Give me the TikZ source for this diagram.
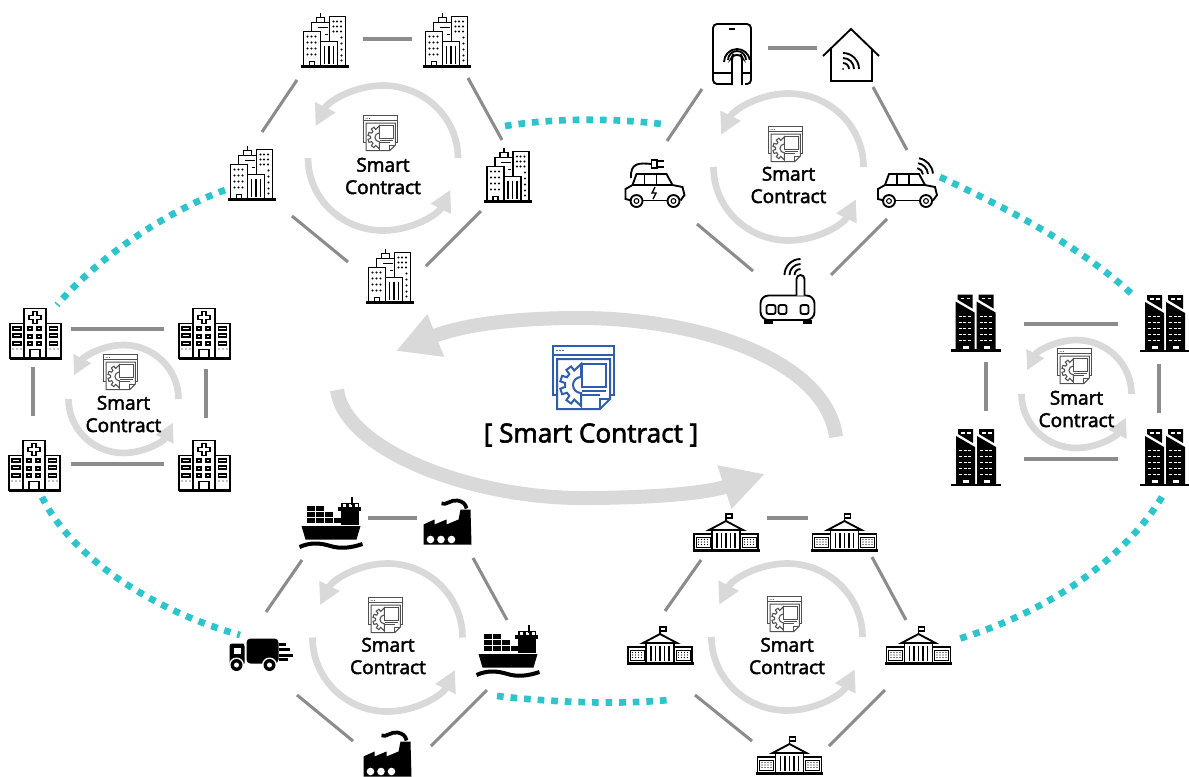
\documentclass[tikz,border=0pt]{standalone}
\usepackage{fontspec}
\usetikzlibrary{arrows.meta,calc}
\newfontfamily\lblfont[FakeBold=2.5]{Open Sans}
\definecolor{ringgray}{HTML}{D9D9D9}
\definecolor{linkgray}{HTML}{8C8C8C}
\definecolor{chaincyan}{HTML}{2CC5CC}
\definecolor{ctblue}{HTML}{2F5DAF}
\definecolor{ctgray}{HTML}{505050}

\tikzset{
    ico/.style={line width=1.4pt},
    site/.style={inner sep=0pt, minimum size=8pt},
    link/.style={draw=linkgray, line width=2.3pt},
    chain/.style={draw=chaincyan, line width=5pt, dash pattern=on 5pt off 5.2pt},
    sclabel/.style={align=center, font=\lblfont\fontsize{14.3}{16.8}\selectfont},
    ctsmall/.style={scale=0.55, color=ctgray, line width=0.8pt},
    ctbig/.style={color=ctblue, line width=1.5pt},
    % rings of two arcs
    pics/ringarrows/.style n args={3}{code={
        \draw[ringgray, line width=5pt, -{Triangle[length=#3pt,width=#3pt]}] (#1,0) arc[start angle=0, end angle=-154, x radius=#1, y radius=#2];
        \draw[ringgray, line width=5pt, -{Triangle[length=#3pt,width=#3pt]}] (-#1,0) arc[start angle=180, end angle=26, x radius=#1, y radius=#2];
    }},
    pics/contract/.style={code={
        \draw (-31,-31) rectangle (30,18);
        \draw (-31,-22) -- (30,-22);
        \foreach \x in {-27,-24,-21} \fill (\x,-26.5) circle[radius=0.9];
        \draw[fill=white] (-27,-18) -- (26,-18) -- (26,22) -- (16,32) -- (-27,32) -- cycle;
        \draw (16,32) -- (16,22) -- (26,22);
        \draw[fill=white] (-2,-13) rectangle (22,10);
        \draw (-2,14) -- (22,14);
        \draw (-2,18) -- (16,18);
        \begin{scope}[shift={(-3,8)}]
            \draw[fill=white] (90:21) \foreach \a in {126,162,198,234} { -- (\a-11:16) -- (\a-8:21) -- (\a+8:21) -- (\a+11:16) } -- (270:21) -- (270:8) arc[start angle=270, end angle=90, radius=8] -- cycle;
        \end{scope}
    }},
    pics/office/.style={code={
        \draw[ico, line width=1.8pt] (-24,27) -- (24,27);
        \draw[ico] (-21,27) |- (-4,-8) -- (-4,2);
        \draw[ico] (-13,-8) |- (5,-17);
        \draw[ico] (-8,-17) |- (0,-22) -- (0,-17);
        \draw[ico] (-4,-22) -- (-4,-27);
        \draw[ico] (5,2) -- (5,-23) -| (21,27);
        \draw[ico] (-4,27) |- (13,2) -- (13,27);
        \draw[ico] (-7,-12) -- (3,-12);
        \draw[ico] (0,-5) -- (3,-5);
        \foreach \x in {0,4.5,9} \draw[ico] (\x,6) -- (\x,24);
        \foreach \y in {-3,3,9,15} \foreach \x in {-17,-13,-9} \fill (\x,\y) circle[radius=1.2];
        \foreach \y in {-18,-13,-8} \foreach \x in {9,12.5,16.5} \fill (\x,\y) circle[radius=1.2];
        \foreach \y in {-2,4,10,16,21} \fill (17,\y) circle[radius=1.2];
        \draw[ico] (-15,27) |- (-10,22) -- (-10,27);
    }},
    pics/hospital/.style={code={
        \draw[ico] (-11,25) |- (11,-25) -- (11,25);
        \draw[ico] (-25,25) |- (-11,-10);
        \draw[ico] (26,25) |- (11,-10);
        \draw[ico, line width=1.8pt] (-25.5,25) -- (26.5,25);
        \draw[ico] (-2,-22) -- (2,-22) -- (2,-18) -- (6,-18) -- (6,-14) -- (2,-14) -- (2,-10) -- (-2,-10) -- (-2,-14) -- (-6,-14) -- (-6,-18) -- (-2,-18) -- cycle;
        \foreach \y in {-5,3,10} \foreach \x in {-5,4} \draw[line width=0.8pt] (\x-2,\y-1.5) rectangle (\x+2,\y+1.5);
        \foreach \y in {-5,2,10} \foreach \x in {-18,18.5} \draw[line width=0.8pt] (\x-4,\y-1.5) rectangle (\x+4,\y+1.5);
        \draw[ico] (-5,25) |- (5,16) -- (5,25);
        \foreach \x in {-22,-18,-14,15,19,23} \fill (\x,15.5) circle[radius=0.7];
    }},
    pics/towers/.style={code={
        \fill[black] (-25,26.5) rectangle (25,29);
        \foreach \s in {0,21} {
            \begin{scope}[shift={(\s,0)}]
                \fill[black] (-18,-28) -- (-3,-28) -- (-3,-14) -- (-18,-23) -- cycle;
                \fill[black] (-20,-21) -- (-1,-10) -- (-1,27) -- (-20,27) -- cycle;
                \foreach \y in {-7,-1,5,11,17} \foreach \x in {-17,-12.5,-8} \fill[white] (\x,\y) rectangle +(3,1.4);
                \fill[white] (-15,-25) rectangle +(3.5,1.6);
                \fill[white] (-9,-25) rectangle +(3.5,1.6);
                \fill[white] (-13,23) rectangle +(6,3);
            \end{scope}
        }
    }},
    pics/gov/.style={code={
        \draw[ico, line width=1.8pt] (-33.5,18.5) -- (33.5,18.5);
        \draw[ico] (-32,18) |- (-14,2);
        \draw[ico] (32,18) |- (14,2);
        \draw[ico] (-14,18) -- (-14,-2);
        \draw[ico] (14,18) -- (14,-2);
        \draw[ico] (-17,-2) -- (0,-11) -- (17,-2) -- cycle;
        \foreach \x in {-9,-4.5,0,4.5,9} \draw[ico] (\x,1) -- (\x,16);
        \draw[ico] (0,-11) -- (0,-18) -- (6,-18) -- (6,-14) -- (0,-14);
        \foreach \s in {-23,23} {
            \draw[line width=0.7pt] (\s-7,5) rectangle (\s+7,15);
            \foreach \y in {7.5,10,12.5} \foreach \x in {-4.5,-1.5,1.5,4.5} \fill (\s+\x,\y) circle[radius=0.7];
        }
    }},
    pics/ship/.style={code={
        \fill[black] (-29,3) -- (30,3) -- (26,16.5) -- (-25,16.5) -- cycle;
        \foreach \x/\y in {-24/-17,-15/-17,-24/-11,-15/-11,-6/-11,-24/-5,-15/-5,-6/-5,3/-5} \fill[black] (\x,\y) rectangle +(8,5);
        \fill[black] (10,-20) rectangle (28,2);
        \fill[black] (7,-16) rectangle (30,-12);
        \foreach \x in {12,18,24} \fill[white] (\x,-19) rectangle +(3,3);
        \draw[line width=1.5pt] (21,-26) -- (21,-18);
        \draw[line width=3pt] (-31,24) .. controls (-20,19) and (-10,20) .. (0,23) .. controls (10,26) and (20,25) .. (32,21);
    }},
    pics/factory/.style={code={
        \fill[black] (-24,21) -- (-24,1) -- (-13,-4) -- (-13,1) -- (-1,-4) -- (-1,1) -- (11,-4) -- (13,-14) -- (23,-14) -- (24,21) -- cycle;
        \foreach \x in {-17,-6.5,4} \fill[white] (\x,16) circle[radius=3.8];
        \draw[line width=2.8pt] (-6,-20) .. controls (-1,-18) and (3,-24) .. (10,-23) .. controls (15,-22) and (18,-20) .. (19,-15);
    }},
    pics/truck/.style={code={
        \fill[black, rounded corners=3pt] (-14,-16) rectangle (18,9);
        \fill[black, rounded corners=2pt] (-31,-11) -- (-18,-11) -- (-16,-11) -- (-16,11) -- (-31,11) -- cycle;
        \fill[white] (-27,-7) rectangle (-20,-1);
        \foreach \x in {-24,9} {
            \fill[white] (\x,10.5) circle[radius=7.5];
            \fill[black] (\x,10.5) circle[radius=6];
            \fill[white] (\x,10.5) circle[radius=2.5];
        }
        \draw[line width=1.6pt] (18,-10) -- (25,-10);
        \draw[line width=1.6pt] (18,-5) -- (29,-5);
        \draw[line width=1.6pt] (18,1) -- (32,1);
        \draw[line width=1.6pt] (18,5) -- (27,5);
    }},
    pics/car/.style={code={
        \draw[ico] (-23,17.5) -- (-29,16) -- (-29,6) -- (-22,2) -- (-18,-9) -- (12,-9) -- (18,2) -- (28,4) -- (30,12) -- (26,17.5);
        \draw[ico] (-22,2) -- (18,2);
        \draw[ico] (-10,-9) -- (-10,2);
        \draw[ico] (2,-9) -- (2,2);
        \draw[ico] (-12,17.5) -- (12,17.5);
        \foreach \x in {-18,19} {
            \draw[ico] (\x,18) circle[radius=6];
            \draw[line width=0.8pt] (\x,18) circle[radius=2.4];
        }
    }},
    pics/wifiarcs/.style={code={
        \foreach \r in {7,12,17} \draw[ico] (-80:\r) arc[start angle=-80, end angle=-5, radius=\r];
    }},
    pics/phone/.style={code={
        \draw[ico, rounded corners=3pt] (8,30) -- (-19,30) -- (-19,-30) -- (19,-30) -- (19,30) -- (13,30);
        \draw[ico] (-19,19) -- (-1,19);
        \draw[ico] (11,19) -- (19,19);
        \draw[ico] (-3,-25) -- (3,-25);
        \draw[ico] (-4,6) arc[start angle=180, end angle=360, radius=9];
        \draw[ico] (-8,8) arc[start angle=180, end angle=350, radius=13];
        \draw[ico, fill=white, rounded corners=2.5pt] (0,31) -- (0,3) -- (1,1) -- (9,1) -- (10,3) -- (10,31);
    }},
    pics/house/.style={code={
        \draw[ico] (-28,1) -- (0,-26) -- (28,1);
        \draw[ico] (-20,-6) -- (-20,26) -- (21,26) -- (21,-6);
        \begin{scope}[shift={(-8,14)}]
            \fill (0,0) circle[radius=1];
            \foreach \r in {6,11,16} \draw[ico] (0:\r) arc[start angle=0, end angle=-90, radius=\r];
        \end{scope}
    }},
    pics/router/.style={code={
        \draw[ico, rounded corners=6pt] (-27,2.5) rectangle (27,27);
        \draw[ico, fill=white] (9,2.5) -- (9,-14) arc[start angle=180, end angle=360, radius=4] -- (17,2.5);
        \foreach \x/\w in {-21/9,-9/8,13/8} \draw[ico, rounded corners=1.5pt] (\x,12) rectangle +(\w,9);
        \fill[black] (-24,27) rectangle (-15,31);
        \fill[black] (15,27) rectangle (24,31);
        \begin{scope}[shift={(13,-18)}]
            \foreach \r in {6,11,16} \draw[ico] (180:\r) arc[start angle=180, end angle=270, radius=\r];
        \end{scope}
    }}
}

\begin{document}
\begin{tikzpicture}[x=0.75pt, y=-0.75pt]
\useasboundingbox (0,0) rectangle (1189,776);

% Central loop
\coordinate (bigA) at (836,437);
\coordinate (bigB) at (396,351);
\coordinate (bigC) at (337,390);
\coordinate (bigD) at (765,474);
\draw[ringgray, line width=10.5pt, -{Triangle[length=32pt,width=32pt]}] (bigA) .. controls (826,360) and (700,318) .. (579,318) .. controls (530,318) and (470,322) .. (bigB);
\draw[ringgray, line width=10.5pt, -{Triangle[length=32pt,width=32pt]}] (bigC) .. controls (345,450) and (470,498) .. (582,498) .. controls (635,498) and (700,495) .. (bigD);
\pic[ctbig] at (584,377) {contract};
\node[font=\lblfont\fontsize{19.6}{22}\selectfont] (title) at (591,435) {[ Smart Contract ]};

% Rings
\pic at (383,158) {ringarrows={75}{72.5}{16}};
\pic at (788.5,167) {ringarrows={75}{73.5}{16}};
\pic at (387.5,637.5) {ringarrows={75}{74}{16}};
\pic at (787,637) {ringarrows={75.5}{73.5}{16}};
\pic at (123.5,399) {ringarrows={55}{54}{14}};
\pic at (1076.5,394) {ringarrows={55}{54}{14}};

% Small contract icons
\pic[ctsmall] at (381,133) {contract};
\pic[ctsmall] at (786,144) {contract};
\pic[ctsmall] at (386,615) {contract};
\pic[ctsmall] at (785,614) {contract};
\pic[ctsmall] at (121,372) {contract};
\pic[ctsmall] at (1075,366) {contract};

\node[sclabel] (sc1) at (383,176) {Smart\\Contract};
\node[sclabel] (sc2) at (788.5,185) {Smart\\Contract};
\node[sclabel] (sc3) at (388,656) {Smart\\Contract};
\node[sclabel] (sc4) at (787,656) {Smart\\Contract};
\node[sclabel] (sc5) at (123.5,414) {Smart\\Contract};
\node[sclabel] (sc6) at (1076.5,409) {Smart\\Contract};

% Offices
\node[site] (of1) at (324.5,39.5) {};
\node[site] (of2) at (446.5,39.5) {};
\node[site] (of3) at (508,174.5) {};
\node[site] (of4) at (389.5,275.5) {};
\node[site] (of5) at (251.5,172.5) {};
\pic at (of1) {office};
\pic at (of2) {office};
\pic at (of3) {office};
\pic at (of4) {office};
\pic at (of5) {office};
\draw[link] ([shift={(38.5,-0.5)}]of1.center) -- ([shift={(-34.5,-0.5)}]of2.center);
\draw[link] ([shift={(21.5,38.5)}]of2.center) -- ([shift={(-6,-34.5)}]of3.center);
\draw[link] ([shift={(-27,36.5)}]of3.center) -- ([shift={(36.5,-9.5)}]of4.center);
\draw[link] ([shift={(-41.5,-13.5)}]of4.center) -- ([shift={(40.5,43.5)}]of5.center);
\draw[link] ([shift={(10.5,-40.5)}]of5.center) -- ([shift={(-27.5,40.5)}]of1.center);

% Devices
\node[site] (phone) at (732,54) {};
\node[site] (house) at (851,55) {};
\node[site] (carw) at (907,183) {};
\node[site] (router) at (787.5,293) {};
\node[site] (carp) at (654.5,183) {};
\pic at (phone) {phone};
\pic at (house) {house};
\pic at (router) {router};
\pic at (carw) {car};
\pic at (carp) {car};
\pic at ($(carw)+(9,-8)$) {wifiarcs};
\draw[ico] (631,178) .. controls (630,162) and (640,163) .. (651.5,164);
\draw[ico, fill=white] (651.5,160) rectangle (657,168);
\draw[ico] (657,161) -- (664,161);
\draw[ico] (657,167) -- (664,167);
\draw[line width=1pt] (655,187) -- (652,193) -- (656,193) -- (653,199);
\draw[link] ([shift={(36,-6)}]phone.center) -- ([shift={(-34,-7)}]house.center);
\draw[link] ([shift={(22,32)}]house.center) -- ([shift={(0,-33)}]carw.center);
\draw[link] ([shift={(-20,36)}]carw.center) -- ([shift={(43.5,-18)}]router.center);
\draw[link] ([shift={(-34.5,-22)}]router.center) -- ([shift={(42.5,41)}]carp.center);
\draw[link] ([shift={(12.5,-42)}]carp.center) -- ([shift={(-30,35)}]phone.center);

% Port
\node[site] (ship1) at (330.5,523) {};
\node[site] (fac1) at (447.5,523.5) {};
\node[site] (ship2) at (507.5,651) {};
\node[site] (fac2) at (387.5,755.5) {};
\node[site] (truck) at (260.5,654.5) {};
\pic at (ship1) {ship};
\pic at (fac1) {factory};
\pic at (ship2) {ship};
\pic at (fac2) {factory};
\pic at (truck) {truck};
\draw[link] ([shift={(37.5,-5)}]ship1.center) -- ([shift={(-30.5,-5.5)}]fac1.center);
\draw[link] ([shift={(25.5,34.5)}]fac1.center) -- ([shift={(-0.5,-31)}]ship2.center);
\draw[link] ([shift={(-20.5,39)}]ship2.center) -- ([shift={(43.5,-9.5)}]fac2.center);
\draw[link] ([shift={(-34.5,-14.5)}]fac2.center) -- ([shift={(36.5,40.5)}]truck.center);
\draw[link] ([shift={(5.5,-42.5)}]truck.center) -- ([shift={(-28.5,37)}]ship1.center);

% Government
\node[site] (gv1) at (726,532) {};
\node[site] (gv2) at (844.5,532) {};
\node[site] (gv3) at (918.5,645) {};
\node[site] (gv4) at (789.5,755) {};
\node[site] (gv5) at (660,645) {};
\pic at (gv1) {gov};
\pic at (gv2) {gov};
\pic at (gv3) {gov};
\pic at (gv4) {gov};
\pic at (gv5) {gov};
\draw[link] ([shift={(41,-14)}]gv1.center) -- ([shift={(-36.5,-14)}]gv2.center);
\draw[link] ([shift={(27.5,25)}]gv2.center) -- ([shift={(-12.5,-25)}]gv3.center);
\draw[link] ([shift={(-33.5,45)}]gv3.center) -- ([shift={(39.5,-9)}]gv4.center);
\draw[link] ([shift={(-37.5,-14)}]gv4.center) -- ([shift={(35,50)}]gv5.center);
\draw[link] ([shift={(5,-34)}]gv5.center) -- ([shift={(-25,28)}]gv1.center);

% Hospitals
\node[site] (hs1) at (35,333.5) {};
\node[site] (hs2) at (204,333.5) {};
\node[site] (hs3) at (204,465.5) {};
\node[site] (hs4) at (34,465.5) {};
\pic at (hs1) {hospital};
\pic at (hs2) {hospital};
\pic at (hs3) {hospital};
\pic at (hs4) {hospital};
\draw[link] ([shift={(36,-4.5)}]hs1.center) -- ([shift={(-40,-4.5)}]hs2.center);
\draw[link] ([shift={(2,35.5)}]hs2.center) -- ([shift={(2,-47.5)}]hs3.center);
\draw[link] ([shift={(-40,-1.5)}]hs3.center) -- ([shift={(37,-1.5)}]hs4.center);
\draw[link] ([shift={(-1,-49.5)}]hs4.center) -- ([shift={(-2,33.5)}]hs1.center);

% Towers
\node[site] (tw1) at (975.5,322.5) {};
\node[site] (tw2) at (1165,323) {};
\node[site] (tw3) at (1165,457) {};
\node[site] (tw4) at (976,457) {};
\pic at (tw1) {towers};
\pic at (tw2) {towers};
\pic at (tw3) {towers};
\pic at (tw4) {towers};
\draw[link] ([shift={(48.5,1.5)}]tw1.center) -- ([shift={(-47,1)}]tw2.center);
\draw[link] ([shift={(-6,41)}]tw2.center) -- ([shift={(-6,-44)}]tw3.center);
\draw[link] ([shift={(-47,2)}]tw3.center) -- ([shift={(48,2)}]tw4.center);
\draw[link] ([shift={(10,-46)}]tw4.center) -- ([shift={(10.5,39.5)}]tw1.center);

% Chain between the groups
\draw[chain] ([shift={(-3,-48.5)}]of3.center) .. controls (555,118) and (610,118) .. ([shift={(-70,70)}]phone.center);
\draw[chain] ([shift={(33,-6)}]carw.center) .. controls (1000,205) and (1080,245) .. ([shift={(-30,-26)}]tw2.center);
\draw[chain] ([shift={(-3,40)}]tw3.center) .. controls (1120,565) and (1040,615) .. ([shift={(36.5,-5)}]gv3.center);
\draw[chain] ([shift={(-10.5,45)}]ship2.center) .. controls (550,702) and (615,705) .. ([shift={(8,55)}]gv5.center);
\draw[chain] ([shift={(8,31.5)}]hs4.center) .. controls (70,555) and (150,610) .. ([shift={(-20.5,-19.5)}]truck.center);
\draw[chain] ([shift={(-26.5,17.5)}]of5.center) .. controls (170,210) and (100,255) .. ([shift={(22,-28.5)}]hs1.center);

\end{tikzpicture}
\end{document}
